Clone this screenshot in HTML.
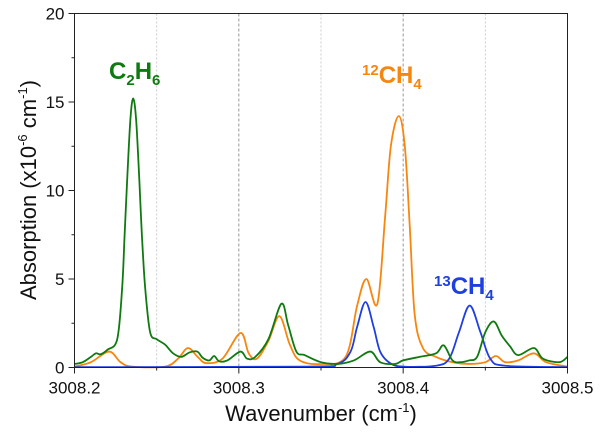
<!DOCTYPE html>
<html><head><meta charset="utf-8"><style>
body{margin:0;background:#fff;font-family:"Liberation Sans",sans-serif}
svg text{font-family:"Liberation Sans",sans-serif}
</style></head><body>
<svg width="600" height="434" viewBox="0 0 600 434">
<g id="grid"></g>
<g id="series"></g>
<g id="axes"></g>
<text x="109" y="79" fill="#0f7a0f" font-weight="bold" font-size="24">C<tspan font-size="15" dy="6">2</tspan><tspan dy="-6">H</tspan><tspan font-size="15" dy="6">6</tspan></text>
<text x="362" y="83" fill="#f7860f" font-weight="bold" font-size="24"><tspan font-size="15" dy="-8">12</tspan><tspan dy="8">CH</tspan><tspan font-size="15" dy="6">4</tspan></text>
<text x="434" y="294" fill="#1f3fe0" font-weight="bold" font-size="24"><tspan font-size="15" dy="-8">13</tspan><tspan dy="8">CH</tspan><tspan font-size="15" dy="6">4</tspan></text>
<text x="321" y="421" text-anchor="middle" font-size="22" fill="#111">Wavenumber (cm<tspan font-size="13" dy="-9">-1</tspan><tspan dy="9">)</tspan></text>
<text transform="translate(36,190) rotate(-90)" text-anchor="middle" font-size="22" fill="#111">Absorption (x10<tspan font-size="13" dy="-9">-6</tspan><tspan dy="9"> cm</tspan><tspan font-size="13" dy="-9">-1</tspan><tspan dy="9">)</tspan></text>
</svg>
<script>
const greenX=[3008.200,3008.205,3008.210,3008.213,3008.216,3008.220,3008.226,3008.229,3008.2305,3008.232,3008.234,3008.2357,3008.2375,3008.2395,3008.241,3008.243,3008.246,3008.250,3008.255,3008.260,3008.265,3008.270,3008.2747,3008.278,3008.282,3008.285,3008.288,3008.293,3008.301,3008.305,3008.310,3008.318,3008.3259,3008.330,3008.335,3008.340,3008.350,3008.360,3008.370,3008.380,3008.386,3008.395,3008.400,3008.410,3008.420,3008.4247,3008.430,3008.435,3008.440,3008.445,3008.450,3008.4552,3008.460,3008.465,3008.470,3008.4796,3008.485,3008.495,3008.500];
const greenY=[0.2,0.3,0.6,0.8,0.75,1.0,1.6,4.5,7.5,10.5,14,15.2,14,10.5,7.5,4.5,2.0,1.6,1.3,0.8,0.6,0.85,0.9,0.55,0.4,0.65,0.35,0.4,0.9,0.5,0.6,1.6,3.6,2.4,0.9,0.7,0.3,0.2,0.4,0.9,0.3,0.2,0.4,0.6,0.8,1.25,0.4,0.3,0.4,0.6,2.0,2.6,1.8,1.2,0.7,1.1,0.5,0.3,0.6];
const orangeX=[3008.200,3008.210,3008.221,3008.228,3008.235,3008.255,3008.263,3008.269,3008.275,3008.280,3008.290,3008.301,3008.306,3008.311,3008.318,3008.3247,3008.331,3008.337,3008.350,3008.365,3008.372,3008.3776,3008.3843,3008.389,3008.3925,3008.3973,3008.401,3008.404,3008.407,3008.412,3008.420,3008.430,3008.440,3008.450,3008.4564,3008.462,3008.470,3008.4796,3008.487,3008.500];
const orangeY=[0.05,0.3,0.9,0.3,0.05,0.05,0.5,1.1,0.6,0.25,0.5,1.95,0.8,0.5,1.5,2.9,1.3,0.4,0.2,0.6,3.5,5.0,3.6,8.5,12.5,14.2,12.5,8,3,1.1,0.6,0.3,0.2,0.3,0.65,0.3,0.4,0.8,0.3,0.05];
const blueX=[3008.200,3008.340,3008.360,3008.368,3008.372,3008.3771,3008.382,3008.386,3008.392,3008.400,3008.420,3008.428,3008.434,3008.4405,3008.447,3008.453,3008.462,3008.500];
const blueY=[0.02,0.05,0.2,0.9,2.3,3.7,2.3,0.9,0.25,0.05,0.1,0.5,2.0,3.5,2.0,0.5,0.1,0.02];
const xTicks=[3008.2,3008.3,3008.4,3008.5];
const xTickLabels=["3008.2","3008.3","3008.4","3008.5"];
const yTicks=[0,5,10,15,20];
const yTickLabels=["0","5","10","15","20"];

const L=74.5,R=567.5,T=13.5,B=367.5,X0=3008.2,X1=3008.5,Y0=0,Y1=20;
const sx=v=>L+(v-X0)/(X1-X0)*(R-L);
const sy=v=>B-(v-Y0)/(Y1-Y0)*(B-T);
const NS="http://www.w3.org/2000/svg";
function mk(tag,attrs,parent){const e=document.createElementNS(NS,tag);for(const k in attrs)e.setAttribute(k,attrs[k]);parent.appendChild(e);return e;}
const grid=document.getElementById('grid'),series=document.getElementById('series'),axes=document.getElementById('axes');
[3008.25,3008.35,3008.45].forEach(v=>{const l=mk('line',{x1:sx(v),x2:sx(v),y1:T,y2:B,stroke:'#ccc','stroke-width':1,'stroke-dasharray':'2,2'},grid);

});
[3008.3,3008.4].forEach(v=>{const l=mk('line',{x1:sx(v),x2:sx(v),y1:T,y2:B,stroke:'#999','stroke-width':1,'stroke-dasharray':'3,2'},grid);

});
function path(xs,ys){const p=xs.map((x,i)=>[sx(x),sy(ys[i])]);let d=`M${p[0][0]},${p[0][1]}`;
for(let i=0;i<p.length-1;i++){const p0=p[i-1]||p[i],p1=p[i],p2=p[i+1],p3=p[i+2]||p2;const t=6;
d+=` C${p1[0]+(p2[0]-p0[0])/t},${p1[1]+(p2[1]-p0[1])/t} ${p2[0]-(p3[0]-p1[0])/t},${p2[1]-(p3[1]-p1[1])/t} ${p2[0]},${p2[1]}`;}return d;}
const s1=mk('path',{d:path(orangeX,orangeY),fill:'none',stroke:'#f7860f','stroke-width':1.8},series);


const s2=mk('path',{d:path(blueX,blueY),fill:'none',stroke:'#1f3fe0','stroke-width':1.8},series);


const s3=mk('path',{d:path(greenX,greenY),fill:'none',stroke:'#0f7a0f','stroke-width':1.8},series);


const frame=mk('rect',{x:L,y:T,width:R-L,height:B-T,fill:'none',stroke:'#222','stroke-width':1},axes);


xTicks.forEach((v,i)=>{mk('line',{x1:sx(v),x2:sx(v),y1:B,y2:B+6,stroke:'#222'},axes);
const t=mk('text',{x:sx(v),y:B+26,'text-anchor':'middle','font-size':17,fill:'#111'},axes);t.textContent=xTickLabels[i];

});
[3008.25,3008.35,3008.45].forEach(v=>mk('line',{x1:sx(v),x2:sx(v),y1:B,y2:B+3,stroke:'#222'},axes));
yTicks.forEach((v,i)=>{mk('line',{x1:L-6,x2:L,y1:sy(v),y2:sy(v),stroke:'#222'},axes);
const t=mk('text',{x:L-10,y:sy(v)+6,'text-anchor':'end','font-size':17,fill:'#111'},axes);t.textContent=yTickLabels[i];

});
[2.5,7.5,12.5,17.5].forEach(v=>mk('line',{x1:L-3,x2:L,y1:sy(v),y2:sy(v),stroke:'#222'},axes));
</script>
</body></html>
